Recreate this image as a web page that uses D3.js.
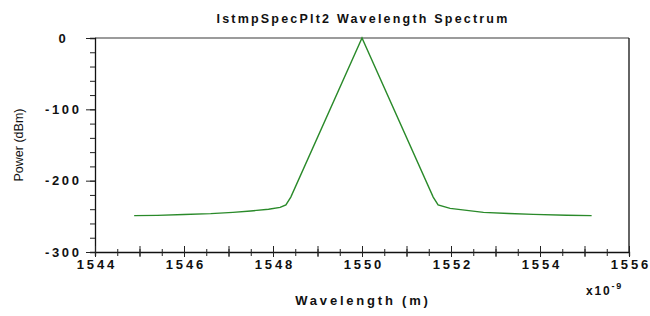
<!DOCTYPE html>
<html><head><meta charset="utf-8">
<script src="https://cdn.jsdelivr.net/npm/d3@7"></script>
<style>
body{margin:0;background:#fff;}
text{font-family:"Liberation Sans",Arial,sans-serif;}
</style></head>
<body><svg id="c" width="650" height="316"></svg>
<script>
const wavelength = [1544.88, 1545.4, 1546.0, 1546.6, 1547.1, 1547.5, 1547.9, 1548.16, 1548.29, 1548.4, 1550.0, 1551.6, 1551.71, 1551.98, 1552.73, 1553.3, 1553.85, 1554.6, 1555.16];
const power =      [-249,    -248.6, -247.4, -246.2, -244.4, -242.5, -240.1, -237.5, -234,   -223,   0,      -223,   -234,    -238.8,  -244.4,  -246.1, -247.2,  -248.5, -249];
const xTickLabels = [1544, 1546, 1548, 1550, 1552, 1554, 1556];
const yTickLabels = [0, -100, -200, -300];
const title = "IstmpSpecPlt2 Wavelength Spectrum";
const xTitle = "Wavelength (m)";
const yTitle = "Power (dBm)";

const L = 95, R = 629, T = 38, B = 252;
const svg = d3.select("#c");
const x = d3.scaleLinear().domain([1544, 1556]).range([L, R]);
const y = d3.scaleLinear().domain([-300, 0]).range([B, T]);

// frame
svg.append("line").attr("x1", L).attr("x2", R).attr("y1", T).attr("y2", T).attr("stroke", "#7a7a7a").attr("stroke-width", 1.3);
svg.append("line").attr("x1", R).attr("x2", R).attr("y1", T).attr("y2", B).attr("stroke", "#111").attr("stroke-width", 1.3);

// y axis
const yMinor = d3.range(-300, 1, 20);
svg.append("g").attr("transform", `translate(${L},0)`)
  .call(d3.axisLeft(y).tickValues(yMinor).tickSize(5).tickFormat(""))
  .call(g => g.select(".domain").attr("stroke", "#111").attr("stroke-width", 1.3))
  .call(g => g.selectAll(".tick line").attr("stroke", "#222"));
svg.append("g").attr("transform", `translate(${L},0)`)
  .call(d3.axisLeft(y).tickValues(yTickLabels).tickSize(9).tickPadding(0).tickFormat(d => d === 0 ? "0" : "-" + Math.abs(d)))
  .call(g => g.select(".domain").remove())
  .call(g => g.selectAll(".tick line").attr("stroke", "#222"))
  .call(g => g.selectAll("text").attr("x", -33).attr("dx", "1.3px").attr("text-anchor", "middle")
    .attr("font-size", 13).attr("font-weight", "bold").attr("letter-spacing", "2.6px").attr("fill", "#111"));

// x axis
const xHalf = d3.range(1544, 1556.01, 0.5);
const xUnit = d3.range(1544, 1556.01, 1);
svg.append("g").attr("transform", `translate(0,${B})`)
  .call(d3.axisBottom(x).tickValues(xHalf).tickSize(4).tickFormat(""))
  .call(g => g.select(".domain").attr("stroke", "#111").attr("stroke-width", 1.3))
  .call(g => g.selectAll(".tick line").attr("stroke", "#222").attr("y1", -3));
svg.append("g").attr("transform", `translate(0,${B})`)
  .call(d3.axisBottom(x).tickValues(xUnit).tickSize(5).tickFormat(""))
  .call(g => g.select(".domain").remove())
  .call(g => g.selectAll(".tick line").attr("stroke", "#222").attr("y1", -6));
svg.append("g").attr("transform", `translate(0,${B})`)
  .call(d3.axisBottom(x).tickValues(xTickLabels).tickSize(0).tickPadding(8).tickFormat(d3.format("d")))
  .call(g => g.select(".domain").remove())
  .call(g => g.selectAll("text").attr("font-size", 13).attr("font-weight", "bold").attr("letter-spacing", "2.8px").attr("dx", "1.4px").attr("fill", "#111"));

// line
const pts = wavelength.map((w, i) => [w, power[i]]);
svg.append("path").datum(pts)
  .attr("fill", "none").attr("stroke", "#2a8a2a").attr("stroke-width", 1.4)
  .attr("d", d3.line().x(d => x(d[0])).y(d => y(d[1])));

// texts
svg.append("text").attr("x", (L + R) / 2 + 1).attr("y", 23).attr("text-anchor", "middle")
  .attr("font-size", 12.5).attr("font-weight", "bold").attr("letter-spacing", "2.2px").attr("fill", "#111").text(title);
svg.append("text").attr("x", (L + R) / 2 + 1).attr("y", 305).attr("text-anchor", "middle")
  .attr("font-size", 13).attr("font-weight", "bold").attr("letter-spacing", "2.8px").attr("fill", "#111").text(xTitle);
svg.append("text").attr("transform", `translate(23,${(T + B) / 2}) rotate(-90)`).attr("text-anchor", "middle")
  .attr("font-size", 12.5).attr("fill", "#111").text(yTitle);
const ex = svg.append("text").attr("x", 586).attr("y", 295).attr("font-size", 12).attr("font-weight", "bold").attr("letter-spacing", "1.8px").attr("fill", "#111");
ex.append("tspan").text("x10");
ex.append("tspan").attr("dy", -6).attr("font-size", 9).text("-9");
</script></body></html>
